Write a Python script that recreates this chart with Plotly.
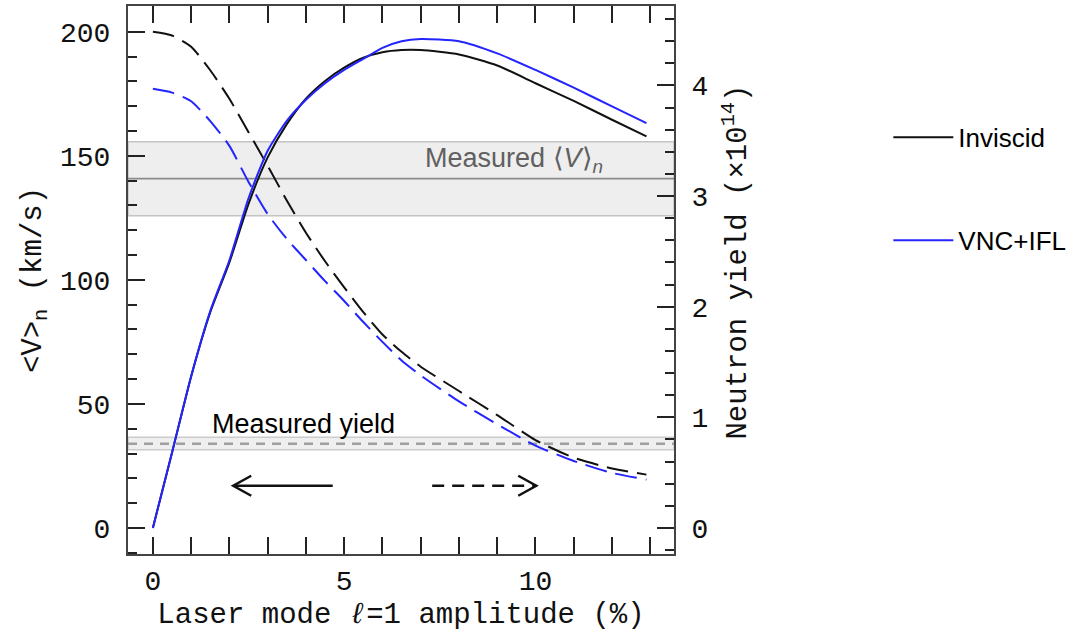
import plotly.graph_objects as go

# ---------------- data ----------------
amplitude = [0, 0.5, 1, 1.5, 2, 2.5, 3, 3.5, 4, 4.5, 5, 5.5, 6, 6.5, 7, 8, 9, 10, 11, 12, 12.9]

# mean neutron velocity <V>_n (km/s), left axis (dashed curves)
v_inviscid = [200, 198.5, 194, 184.5, 173, 159.5, 146, 132, 119, 107.5, 97, 87, 78, 71, 65, 55.2, 45.5, 35.4, 28.3, 24, 21.5]
v_vncifl = [177, 175.5, 172, 164, 154, 139.5, 126.5, 116.5, 108, 99.5, 91.5, 83, 75, 67.5, 61.5, 51, 41.8, 33.2, 27, 22.2, 19.5]

# neutron yield (x1e14), right axis (solid curves)
y_inviscid = [0, 0.68, 1.37, 1.95, 2.40, 2.93, 3.35, 3.65, 3.88, 4.04, 4.16, 4.25, 4.30, 4.32, 4.32, 4.28, 4.18, 4.02, 3.86, 3.69, 3.54]
y_vncifl = [0, 0.68, 1.37, 1.96, 2.42, 2.98, 3.41, 3.68, 3.87, 4.02, 4.14, 4.24, 4.34, 4.40, 4.42, 4.40, 4.29, 4.14, 3.98, 3.81, 3.66]

# measurements
measured_v = 140.8
measured_v_band = [125.8, 155.7]
measured_yield = 0.760
measured_yield_band = [0.707, 0.819]

# annotation arrows (x from, x to) at given <V> level
arrow_level = 17
solid_arrow = [4.70, 2.10]
dashed_arrow = [7.30, 10.02]

x_ticks = [0, 5, 10]
v_ticks = [0, 50, 100, 150, 200]
yield_ticks = [0, 1, 2, 3, 4]

BLACK = "#111111"
BLUE = "#2424ff"
AXFONT = "Liberation Mono, DejaVu Sans Mono, monospace"
SANS = "Liberation Sans, Arial"

fig = go.Figure()

fig.add_trace(go.Scatter(x=amplitude, y=v_inviscid, mode="lines", yaxis="y",
                         line=dict(color=BLACK, width=2, dash="22px,9px", shape="spline", smoothing=0.6),
                         showlegend=False))
fig.add_trace(go.Scatter(x=amplitude, y=v_vncifl, mode="lines", yaxis="y",
                         line=dict(color=BLUE, width=2, dash="22px,9px", shape="spline", smoothing=0.6),
                         showlegend=False))
fig.add_trace(go.Scatter(x=amplitude, y=y_inviscid, mode="lines", yaxis="y2", name="Inviscid",
                         legendgroup="a", line=dict(color=BLACK, width=2, shape="spline", smoothing=0.6)))
fig.add_trace(go.Scatter(x=amplitude, y=y_vncifl, mode="lines", yaxis="y2", name="VNC+IFL",
                         legendgroup="b", line=dict(color=BLUE, width=2, shape="spline", smoothing=0.6)))

shapes = [
    dict(type="rect", xref="paper", x0=0, x1=1, yref="y", y0=measured_v_band[0], y1=measured_v_band[1],
         fillcolor="#eeeeee", line=dict(color="#c4c4c4", width=1.5), layer="below"),
    dict(type="line", xref="paper", x0=0, x1=1, yref="y", y0=measured_v, y1=measured_v,
         line=dict(color="#8a8a8a", width=1.8), layer="below"),
    dict(type="rect", xref="paper", x0=0, x1=1, yref="y2", y0=measured_yield_band[0], y1=measured_yield_band[1],
         fillcolor="#efefef", line=dict(color="#cccccc", width=1.5), layer="below"),
    dict(type="line", xref="paper", x0=0, x1=1, yref="y2", y0=measured_yield, y1=measured_yield,
         line=dict(color="#a0a0a0", width=2.5, dash="9px,7px"), layer="below"),
    # solid arrow (pointing left)
    dict(type="line", xref="x", yref="y", x0=solid_arrow[0], x1=solid_arrow[1], y0=arrow_level, y1=arrow_level,
         line=dict(color=BLACK, width=2.5)),
    dict(type="path", xref="x", yref="y", xsizemode="pixel", ysizemode="pixel",
         xanchor=solid_arrow[1], yanchor=arrow_level, path="M 18,10 L 0,0 L 18,-10",
         line=dict(color=BLACK, width=2.5)),
    # dashed arrow (pointing right)
    dict(type="line", xref="x", yref="y", x0=dashed_arrow[0], x1=dashed_arrow[1], y0=arrow_level, y1=arrow_level,
         line=dict(color=BLACK, width=2.5, dash="12px,8px")),
    dict(type="path", xref="x", yref="y", xsizemode="pixel", ysizemode="pixel",
         xanchor=dashed_arrow[1], yanchor=arrow_level, path="M -18,10 L 0,0 L -18,-10",
         line=dict(color=BLACK, width=2.5)),
]

annotations = [
    dict(x=1.50, y=42, xref="x", yref="y", text="Measured yield", showarrow=False,
         xanchor="left", yanchor="middle", font=dict(family=SANS, size=27, color="#000000")),
    dict(x=7.05, y=148.3, xref="x", yref="y", text="Measured ⟨<i>V</i>⟩<sub><i>n</i></sub>", showarrow=False,
         xanchor="left", yanchor="middle", font=dict(family=SANS, size=27, color="#606060")),
    # right-axis title
    dict(x=1.113, y=0.533, xref="paper", yref="paper", text="Neutron yield (×10<sup>14</sup>)",
         showarrow=False, textangle=-90, xanchor="center", yanchor="middle",
         font=dict(family=AXFONT, size=29, color="#111111")),
]

axis_common = dict(showgrid=False, zeroline=False, showline=True, linecolor="#444444", linewidth=2,
                   ticks="inside", ticklen=17, tickwidth=1.5, tickcolor="#222222", automargin=False,
                   tickfont=dict(family=AXFONT, size=28, color="#111111"))

fig.update_layout(
    width=1076, height=633,
    margin=dict(l=128, r=401, t=6, b=79),
    paper_bgcolor="white", plot_bgcolor="white",
    xaxis=dict(range=[-0.65, 13.62], tickvals=x_ticks, mirror="allticks", ticklabelstandoff=0,
               minor=dict(dtick=1, ticklen=9, ticks="inside", tickcolor="#222222", tickwidth=1.5),
               title=dict(text="Laser mode <i>ℓ</i>=1 amplitude (%)", font=dict(family=AXFONT, size=29, color="#111111"),
                          standoff=6),
               **axis_common),
    yaxis=dict(range=[-10.5, 210.4], tickvals=v_ticks, ticklabelstandoff=10,
               minor=dict(dtick=10, ticklen=9, ticks="inside", tickcolor="#222222", tickwidth=1.5),
               title=dict(text="&lt;V&gt;<sub>n</sub> (km/s)", font=dict(family=AXFONT, size=29, color="#111111"),
                          standoff=10),
               **axis_common),
    yaxis2=dict(range=[-0.2355, 4.718], tickvals=yield_ticks, overlaying="y", side="right", ticklabelstandoff=10,
                minor=dict(dtick=0.2, ticklen=9, ticks="inside", tickcolor="#222222", tickwidth=1.5),
                **axis_common),
    legend=dict(x=1.39, y=0.803, xanchor="left", yanchor="top", bgcolor="rgba(0,0,0,0)", itemwidth=60,
                font=dict(family=SANS, size=26, color="#000000"), tracegroupgap=66),
    shapes=shapes,
    annotations=annotations,
)

fig.write_html("out.html", config={"displayModeBar": False},
               post_script="document.body.style.margin='0';document.body.style.overflow='hidden';")
